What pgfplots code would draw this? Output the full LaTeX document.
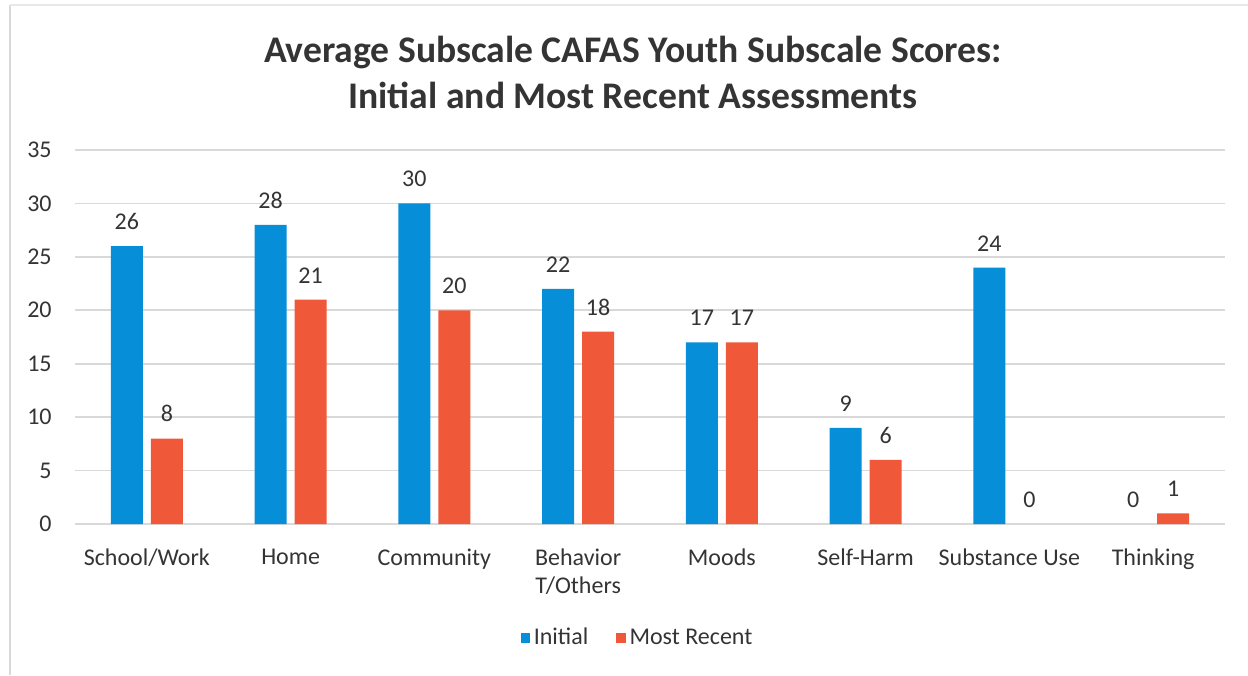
\documentclass[border=0pt]{standalone}
\usepackage{pgfplots}
\pgfplotsset{compat=1.18}
\usepackage{fontspec}
\setmainfont{Carlito}
\definecolor{cblue}{RGB}{6,142,216}
\definecolor{cred}{RGB}{240,88,58}
\definecolor{ctext}{RGB}{52,52,52}
\definecolor{cgrid}{RGB}{217,217,217}
\begin{document}
\begin{tikzpicture}
\path[use as bounding box] (-37.5pt,-75.5pt) rectangle (586.5pt,262pt);
\draw[cgrid, line width=0.8pt] (-32.5pt,-75.5pt) -- (-32.5pt,259.5pt);
\draw[cgrid!60, line width=0.6pt] (-32.5pt,259.5pt) -- (586.5pt,259.5pt);
\begin{axis}[
  at={(0,0)}, anchor=south west,
  scale only axis, width=575pt, height=187pt,
  ybar, bar width=16pt,
  xmin=-0.5, xmax=7.5, ymin=0, ymax=35,
  xtick={0,...,7},
  xticklabels={School/Work,Home,Community,{Behavior\\T/Others},Moods,Self-Harm,Substance Use,Thinking},
  ytick={0,5,...,35},
  ymajorgrids, major grid style={cgrid, line width=0.9pt},
  axis line style={draw=none}, tick style={draw=none},
  /pgf/number format/assume math mode=true,
  tick label style={font=\fontsize{12}{14}\selectfont, text=ctext},
  xticklabel style={align=center, anchor=north, inner sep=0pt, yshift=-8pt},
  yticklabel style={anchor=east, inner sep=0pt, xshift=-11.5pt},
  nodes near coords,
  nodes near coords style={font=\fontsize{12}{14}\selectfont, text=ctext, inner sep=0pt, anchor=south, yshift=8pt},
  legend style={draw=none, fill=none, at={(0.49,0)}, anchor=center, yshift=-57pt,
    font=\fontsize{12}{14}\selectfont, text=ctext,
    /tikz/every even column/.append style={column sep=12pt}},
  legend columns=2,
  clip=false,
]
\addplot[bar shift=-10pt, fill=cblue, draw=none, legend image code/.code={\fill[cblue] (0pt,-2.3pt) rectangle (4.6pt,2.3pt);}]
  coordinates {(0,26) (1,28) (2,30) (3,22) (4,17) (5,9) (6,24)};
\addplot[bar shift=10pt, fill=cred, draw=none, legend image code/.code={\fill[cred] (0pt,-2.3pt) rectangle (4.6pt,2.3pt);}]
  coordinates {(0,8) (1,21) (2,20) (3,18) (4,17) (5,6) (7,1)};
\addplot[bar shift=-10pt, fill=none, draw=none, forget plot] coordinates {(7,0)};
\addplot[bar shift=10pt, fill=none, draw=none, forget plot] coordinates {(6,0)};
\legend{Initial, Most Recent}
\end{axis}
\node[font=\fontsize{18.8}{22}\selectfont\bfseries, text=ctext] at (279pt,236pt) {Average Subscale CAFAS Youth Subscale Scores:};
\node[font=\fontsize{18.8}{22}\selectfont\bfseries, text=ctext] at (279pt,214.5pt) {Initial and Most Recent Assessments};
\end{tikzpicture}
\end{document}
